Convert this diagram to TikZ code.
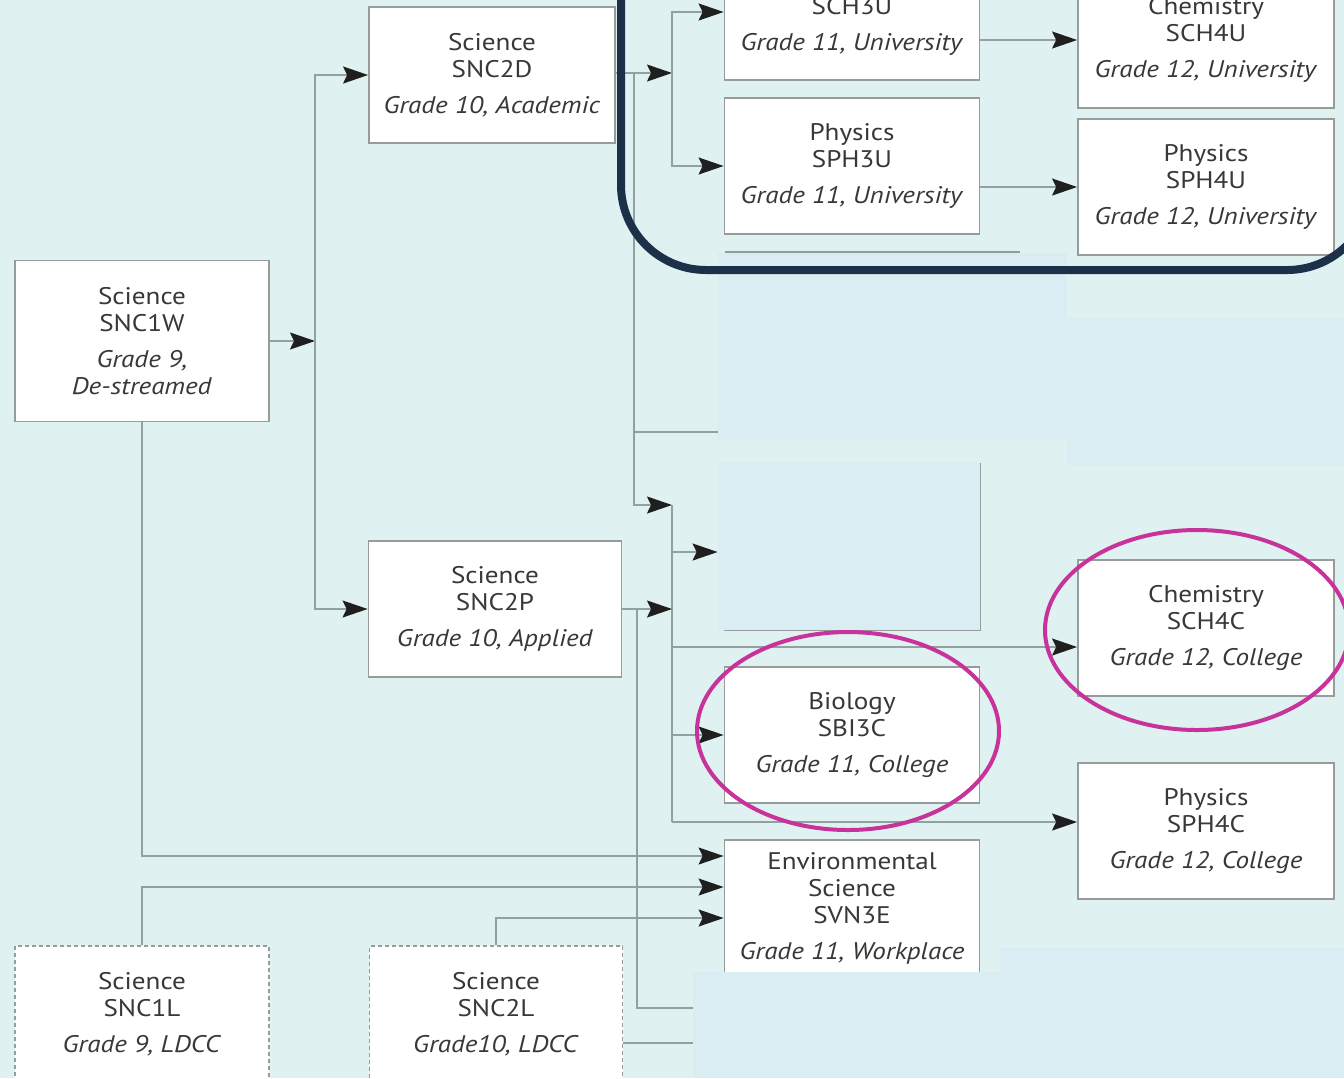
\documentclass[tikz,border=0pt]{standalone}
\usepackage{fontspec}
\setmainfont{PT Sans}[FakeStretch=1.13]
\usetikzlibrary{arrows.meta}

\definecolor{bgteal}{RGB}{223,241,240}
\definecolor{patch}{RGB}{218,237,242}
\definecolor{boxgray}{RGB}{150,156,156}
\definecolor{linegray}{RGB}{145,160,160}
\definecolor{navy}{RGB}{28,48,73}
\definecolor{ringpink}{RGB}{200,50,155}

\newcommand{\course}[3]{#1\\#2\\[4.5pt]\textit{#3}}

\tikzset{
  course/.style={draw=boxgray, line width=0.9pt, fill=white, align=center, inner sep=0pt,
    text=black!78, minimum width=127.5pt, minimum height=68pt, font=\fontsize{12}{13.5}\selectfont},
  ldcc/.style={course, dash pattern=on 2pt off 1.5pt, line width=0.6pt},
  conn/.style={draw=linegray, line width=0.8pt},
  arr/.style={conn, -{Stealth[length=12.5pt, width=8.5pt, inset=2pt, color=black!88]}},
  blank/.style={fill=patch, inner sep=0pt}
}

\begin{document}
\begin{tikzpicture}[x=0.5pt, y=-0.5pt]
  \useasboundingbox (0,0) rectangle (1344,1078);
  \clip (0,0) rectangle (1344,1078);
  \fill[bgteal] (0,0) rectangle (1344,1078);

  \node[course, minimum width=127pt, minimum height=80.5pt] (snc1w) at (142,341)
    {Science\\SNC1W\\[4.5pt]\textit{Grade 9,}\\\textit{De-streamed}};
  \node[course, minimum width=123pt] (snc2d) at (492,75) {\course{Science}{SNC2D}{Grade 10, Academic}};
  \node[course, minimum width=126.5pt] (snc2p) at (495,609) {\course{Science}{SNC2P}{Grade 10, Applied}};
  \node[ldcc, minimum width=127pt] (snc1l) at (142,1014) {\course{Science}{SNC1L}{Grade 9, LDCC}};
  \node[ldcc, minimum width=126.5pt] (snc2l) at (496,1014) {\course{Science}{SNC2L}{Grade10, LDCC}};

  \node[course] (sch3u) at (852,12) {\course{\strut}{SCH3U}{Grade 11, University}};
  \node[course] (sph3u) at (852,166) {\course{Physics}{SPH3U}{Grade 11, University}};
  \node[blank, minimum width=131pt, minimum height=83.5pt] (empty) at (849,546.5) {};
  \node[course] (sbi3c) at (852,735) {\course{Biology}{SBI3C}{Grade 11, College}};
  \node[course] (svn3e) at (852,908) {Environmental\\Science\\SVN3E\\[4.5pt]\textit{Grade 11, Workplace}};

  \node[course, minimum width=128pt] (sch4u) at (1206,40) {\course{Chemistry}{SCH4U}{Grade 12, University}};
  \node[course, minimum width=128pt] (sph4u) at (1206,187) {\course{Physics}{SPH4U}{Grade 12, University}};
  \node[course, minimum width=128pt] (sch4c) at (1206,628) {\course{Chemistry}{SCH4C}{Grade 12, College}};
  \node[course, minimum width=128pt] (sph4c) at (1206,831) {\course{Physics}{SPH4C}{Grade 12, College}};

  \coordinate (j9) at (315,341);
  \coordinate (jd) at (672,73);
  \coordinate (bd) at (634,73);
  \coordinate (jc) at (672,505);
  \coordinate (jp) at (672,609);

  \draw[arr] (snc1w.east) -- (j9);
  \draw[arr] (j9) |- (snc2d.west);
  \draw[arr] (j9) |- (snc2p.west);

  \draw[arr] (snc2d.east |- jd) -- (jd);
  \draw[arr] (jd) |- (sch3u.west);
  \draw[arr] (jd) |- (sph3u.west);
  \draw[arr] (bd) |- (jc);
  \draw[conn] (bd |- 0,432) -- (718,432);
  \draw[conn] (jc) -- (672,822);
  \draw[arr] (jc |- 0,552) -- (empty.west |- 0,552);
  \draw[arr] (snc2p.east) -- (jp);
  \draw[arr] (jc |- 0,647) -- (sch4c.west |- 0,647);
  \draw[arr] (jc |- sbi3c.west) -- (sbi3c.west);
  \draw[arr] (jc |- 0,822) -- (sph4c.west |- 0,822);
  \draw[conn] (637,609) |- (693,1008);

  \draw[arr] (snc1w.south) |- (svn3e.west |- 0,856);
  \draw[arr] (snc1l.north) |- (svn3e.west |- 0,887);
  \draw[arr] (snc2l.north) |- (svn3e.west |- 0,918);
  \draw[conn] (snc2l.east |- 0,1043) -- (693,1043);

  \draw[arr] (sch3u.east |- sch4u.west) -- (sch4u.west);
  \draw[arr] (sph3u.east |- sph4u.west) -- (sph4u.west);

  \fill[patch] (718,253) rectangle (1067,440);
  \fill[patch] (1067,318) rectangle (1344,465);
  \fill[patch] (693,972) rectangle (1000,1078);
  \fill[patch] (1000,948) rectangle (1344,1078);
  \draw[boxgray, line width=0.6pt] (725,252) -- (1020,252);
  \draw[boxgray, line width=0.6pt] (empty.north east) -- (empty.south east) -- ([xshift=3pt]empty.south west);

  \draw[navy, line width=4pt, rounded corners=42.5pt] (621,-120) rectangle (1372,270);
  \draw[ringpink, line width=2pt] (848,731) ellipse [x radius=75.5pt, y radius=49.5pt];
  \draw[ringpink, line width=2pt] (1197,630) ellipse [x radius=76pt, y radius=50pt];
\end{tikzpicture}
\end{document}
